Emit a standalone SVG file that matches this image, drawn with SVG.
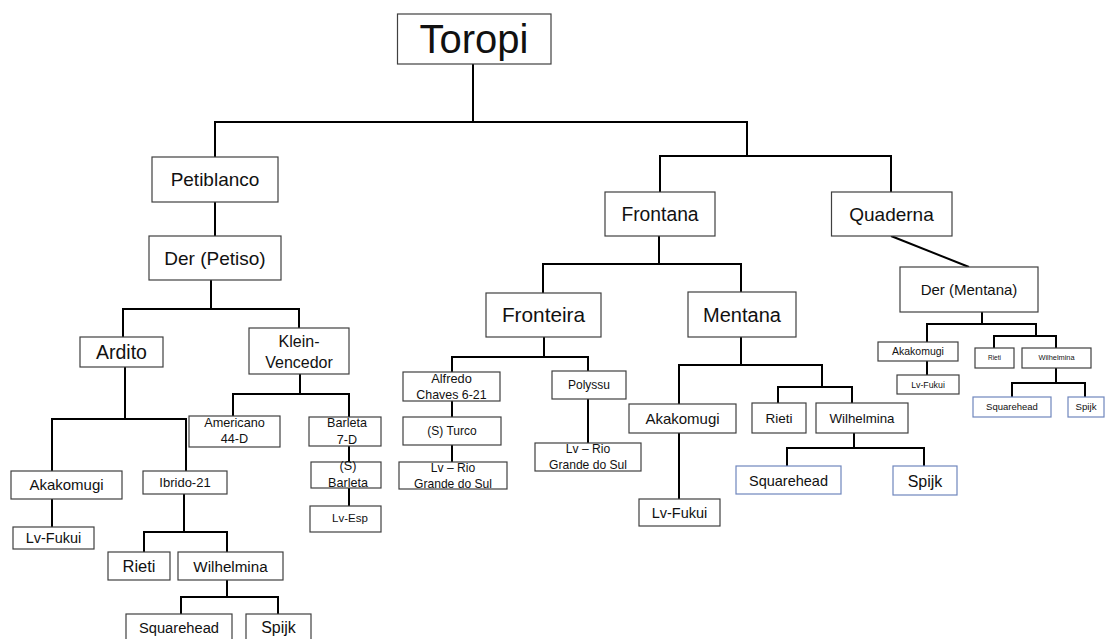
<svg xmlns="http://www.w3.org/2000/svg" width="1105" height="639" viewBox="0 0 1105 639">
<style>
.b{fill:#fff;stroke:#404040;stroke-width:1.2}
.bl{fill:#fff;stroke:#6f86bd;stroke-width:1.2}
.c{fill:none;stroke:#000;stroke-width:2}
text{font-family:"Liberation Sans",Arial,sans-serif;fill:#111;text-anchor:middle}
</style>
<rect width="1105" height="639" fill="#fff"/>
<g id="connectors" class="c">
<path d="M473,64V122M215,157V122H747V156M660,192V156H891V192"/>
<path d="M215,202V236"/>
<path d="M211,280V309M123,337V309H299V328"/>
<path d="M125,367V419M52,471V419H186V471"/>
<path d="M52,499V527"/>
<path d="M184,494V532M144,552V532H227V552"/>
<path d="M227,580V597M181,614V597H278V614"/>
<path d="M300,374V394M233,416V394H349V417"/>
<path d="M349,446V462M349,488V506"/>
<path d="M659,236V264M543,293V264H741V292"/>
<path d="M544,337V357M452,372V357H588V371"/>
<path d="M452,401V417M452,445V462"/>
<path d="M588,399V443"/>
<path d="M741,337V365M679,404V365H822V387M778,403V387H852V403"/>
<path d="M679,433V499"/>
<path d="M854,433V448M787,466V448H924V466"/>
<path d="M891,236L969,267"/>
<path d="M982,312V324M927,342V324H1036V336M994,348V336H1056V348"/>
<path d="M927,361V375"/>
<path d="M1056,368V383M1012,397V383H1085V397"/>
</g>
<g id="toropi"><rect class="b" x="397.5" y="14" width="153.5" height="50"/><text x="474" y="53" font-size="40">Toropi</text></g>
<g id="petiblanco"><rect class="b" x="152" y="157" width="126" height="45"/><text x="215" y="186" font-size="19">Petiblanco</text></g>
<g id="der-petiso"><rect class="b" x="149" y="236" width="132" height="44"/><text x="215" y="265" font-size="19">Der (Petiso)</text></g>
<g id="ardito"><rect class="b" x="80" y="337" width="83" height="30"/><text x="121.5" y="359" font-size="19.5">Ardito</text></g>
<g id="klein-vencedor"><rect class="b" x="249" y="328" width="100" height="46"/><text x="299" y="347" font-size="16">Klein-</text><text x="299" y="368" font-size="16">Vencedor</text></g>
<g id="akakomugi-1"><rect class="b" x="11" y="471" width="111" height="28"/><text x="66.5" y="490" font-size="15">Akakomugi</text></g>
<g id="ibrido-21"><rect class="b" x="143" y="471" width="84" height="23"/><text x="185" y="487" font-size="13">Ibrido-21</text></g>
<g id="lv-fukui-1"><rect class="b" x="13" y="527" width="81" height="22"/><text x="53.5" y="543" font-size="14.5">Lv-Fukui</text></g>
<g id="rieti-1"><rect class="b" x="108" y="552" width="62" height="28"/><text x="139" y="572" font-size="16.5">Rieti</text></g>
<g id="wilhelmina-1"><rect class="b" x="178" y="552" width="105" height="28"/><text x="230.5" y="572" font-size="15.2">Wilhelmina</text></g>
<g id="squarehead-1"><rect class="b" x="126" y="614" width="106" height="32"/><text x="179" y="633" font-size="14.7">Squarehead</text></g>
<g id="spijk-1"><rect class="b" x="246" y="614" width="65" height="32"/><text x="278.5" y="633" font-size="16">Spijk</text></g>
<g id="americano"><rect class="b" x="189" y="416" width="91" height="31"/><text x="234.5" y="427" font-size="12.7">Americano</text><text x="234.5" y="443" font-size="12.7">44-D</text></g>
<g id="barleta-7d"><rect class="b" x="309" y="417" width="72" height="29"/><text x="347" y="427" font-size="12.6">Barleta</text><text x="347" y="444" font-size="12.6">7-D</text></g>
<g id="s-barleta"><rect class="b" x="311" y="462" width="70" height="26"/><text x="348" y="470" font-size="12.6">(S)</text><text x="348" y="487" font-size="12.6">Barleta</text></g>
<g id="lv-esp"><rect class="b" x="310" y="506" width="71" height="26"/><text x="350" y="522" font-size="11.5">Lv-Esp</text></g>
<g id="frontana"><rect class="b" x="605" y="192" width="110" height="44"/><text x="660" y="221" font-size="19.3">Frontana</text></g>
<g id="quaderna"><rect class="b" x="831.5" y="192" width="120.5" height="44"/><text x="891.5" y="221" font-size="19">Quaderna</text></g>
<g id="fronteira"><rect class="b" x="486" y="293" width="115" height="44"/><text x="543.5" y="322" font-size="20.8">Fronteira</text></g>
<g id="mentana"><rect class="b" x="688" y="292" width="108" height="45"/><text x="742" y="322" font-size="20">Mentana</text></g>
<g id="alfredo"><rect class="b" x="403" y="372" width="97" height="29"/><text x="451.5" y="383" font-size="12.8">Alfredo</text><text x="451.5" y="399" font-size="12.4">Chaves 6-21</text></g>
<g id="s-turco"><rect class="b" x="403" y="417" width="98" height="28"/><text x="452" y="435" font-size="12">(S) Turco</text></g>
<g id="lv-rio-1"><rect class="b" x="399" y="462" width="108" height="27"/><text x="453" y="472" font-size="12.1">Lv – Rio</text><text x="453" y="488" font-size="12.1">Grande do Sul</text></g>
<g id="polyssu"><rect class="b" x="552" y="371" width="74" height="28"/><text x="589" y="389" font-size="12">Polyssu</text></g>
<g id="lv-rio-2"><rect class="b" x="535" y="443" width="106" height="28"/><text x="588" y="453" font-size="12.1">Lv – Rio</text><text x="588" y="469" font-size="12.1">Grande do Sul</text></g>
<g id="akakomugi-2"><rect class="b" x="629" y="404" width="107" height="29"/><text x="682.5" y="424" font-size="15">Akakomugi</text></g>
<g id="lv-fukui-2"><rect class="b" x="639" y="499" width="81" height="27"/><text x="679.5" y="518" font-size="14.5">Lv-Fukui</text></g>
<g id="rieti-2"><rect class="b" x="752" y="403" width="54" height="30"/><text x="779" y="423" font-size="13.5">Rieti</text></g>
<g id="wilhelmina-2"><rect class="b" x="816" y="403" width="92" height="30"/><text x="862" y="423" font-size="13.3">Wilhelmina</text></g>
<g id="squarehead-2"><rect class="bl" x="736" y="466" width="105" height="28"/><text x="788.5" y="486" font-size="14.5">Squarehead</text></g>
<g id="spijk-2"><rect class="bl" x="893" y="466" width="64" height="29"/><text x="925" y="487" font-size="16">Spijk</text></g>
<g id="der-mentana"><rect class="b" x="900" y="267" width="138" height="45"/><text x="969" y="295" font-size="15">Der (Mentana)</text></g>
<g id="akakomugi-3"><rect class="b" x="878" y="342" width="80" height="19"/><text x="918" y="355" font-size="10.5">Akakomugi</text></g>
<g id="lv-fukui-3"><rect class="b" x="897" y="375" width="62" height="19"/><text x="928" y="388" font-size="8.8">Lv-Fukui</text></g>
<g id="rieti-3"><rect class="b" x="975" y="348" width="39" height="20"/><text x="994.5" y="360" font-size="6.5">Rieti</text></g>
<g id="wilhelmina-3"><rect class="b" x="1022" y="348" width="69" height="20"/><text x="1056.5" y="360" font-size="7.4">Wilhelmina</text></g>
<g id="squarehead-3"><rect class="bl" x="973" y="397" width="78" height="20"/><text x="1012" y="410" font-size="9.5">Squarehead</text></g>
<g id="spijk-3"><rect class="bl" x="1068" y="397" width="36" height="20"/><text x="1086" y="410" font-size="9.7">Spijk</text></g>
</svg>
